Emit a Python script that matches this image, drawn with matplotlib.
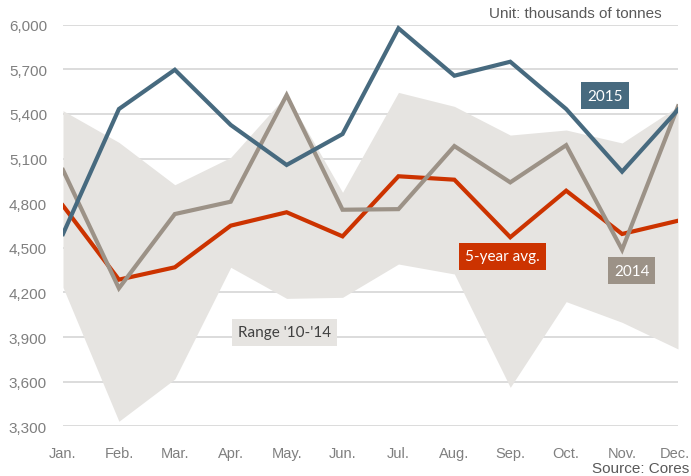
import numpy as np
import matplotlib
matplotlib.use('Agg')
import matplotlib.pyplot as plt
import matplotlib.transforms as mtransforms

months = ['Jan.', 'Feb.', 'Mar.', 'Apr.', 'May.', 'Jun.', 'Jul.', 'Aug.', 'Sep.', 'Oct.', 'Nov.', 'Dec.']
y2015 = [4593, 5433, 5697, 5326, 5057, 5265, 5976, 5657, 5751, 5433, 5012, 5429]
y2014 = [5023, 4228, 4727, 4810, 5527, 4756, 4760, 5184, 4940, 5190, 4487, 5451]
avg5 = [4783, 4286, 4369, 4649, 4739, 4577, 4981, 4958, 4571, 4884, 4593, 4682]
range_hi = [5422, 5209, 4924, 5108, 5527, 4873, 5545, 5451, 5258, 5292, 5205, 5451]
range_lo = [4234, 3334, 3618, 4369, 4160, 4167, 4391, 4324, 3562, 4138, 3999, 3820]
yticks = list(range(3300, 6001, 300))

c2015 = '#476a7f'
c2014 = '#9c9287'
cavg = '#cc3300'
crange = '#e6e4e1'
cgrid = '#d9d9d9'
ctext = '#7f7f7f'

plt.rcParams['font.family'] = ['Liberation Sans', 'DejaVu Sans']

fig = plt.figure(figsize=(6.91, 4.77), dpi=100)
ax = fig.add_axes([63 / 691, (477 - 427.3) / 477, (678 - 63) / 691, (427.3 - 25.7) / 477])

x = np.arange(len(months))
for t in yticks:
    ax.axhline(t, color=cgrid, lw=1.3, zorder=0)

ax.fill_between(x, range_lo, range_hi, color=crange, lw=0, zorder=1)
ax.plot(x, avg5, color=cavg, lw=3, zorder=3, solid_joinstyle='miter')
ax.plot(x, y2014, color=c2014, lw=3, zorder=4, solid_joinstyle='miter')
ax.plot(x, y2015, color=c2015, lw=3, zorder=5, solid_joinstyle='miter')

ax.set_xlim(0, len(months) - 1)
ax.set_ylim(yticks[0], yticks[-1])
ax.set_xticks(x)
ax.set_xticklabels(months)
ax.set_yticks(yticks)
ax.set_yticklabels(['{:,}'.format(t) for t in yticks])
ax.tick_params(axis='both', length=0, labelcolor=ctext)
ax.tick_params(axis='y', pad=11.5, labelsize=11)
ax.tick_params(axis='x', pad=14, labelsize=10.5)
for s in ax.spines.values():
    s.set_visible(False)

# nudge the last month label so it stays inside the figure
last = ax.get_xticklabels()[-1]
last.set_transform(last.get_transform() + mtransforms.ScaledTranslation(-3 / 100, 0, fig.dpi_scale_trans))

lab = dict(family=['Lato', 'DejaVu Sans'], fontsize=11, ha='center', va='center', zorder=6)
ax.text(9.70, 5524, '2015', color='white', bbox=dict(boxstyle='square,pad=0.4', fc=c2015, ec='none'), **lab)
ax.text(10.17, 4347, '2014', color='white', bbox=dict(boxstyle='square,pad=0.4', fc=c2014, ec='none'), **lab)
ax.text(7.86, 4442, '5-year avg.', color='white', bbox=dict(boxstyle='square,pad=0.4', fc=cavg, ec='none'), **lab)
ax.text(3.96, 3931, "Range '10-'14", color='#404040', bbox=dict(boxstyle='square,pad=0.4', fc=crange, ec='none'), **lab)

fig.text(662 / 691, 1 - 14 / 477, 'Unit: thousands of tonnes', ha='right', va='center', fontsize=11, color='#595959')
fig.text(689 / 691, 1 - 469 / 477, 'Source: Cores', ha='right', va='center', fontsize=11, color='#595959')

plt.savefig('out.png', dpi=100)
